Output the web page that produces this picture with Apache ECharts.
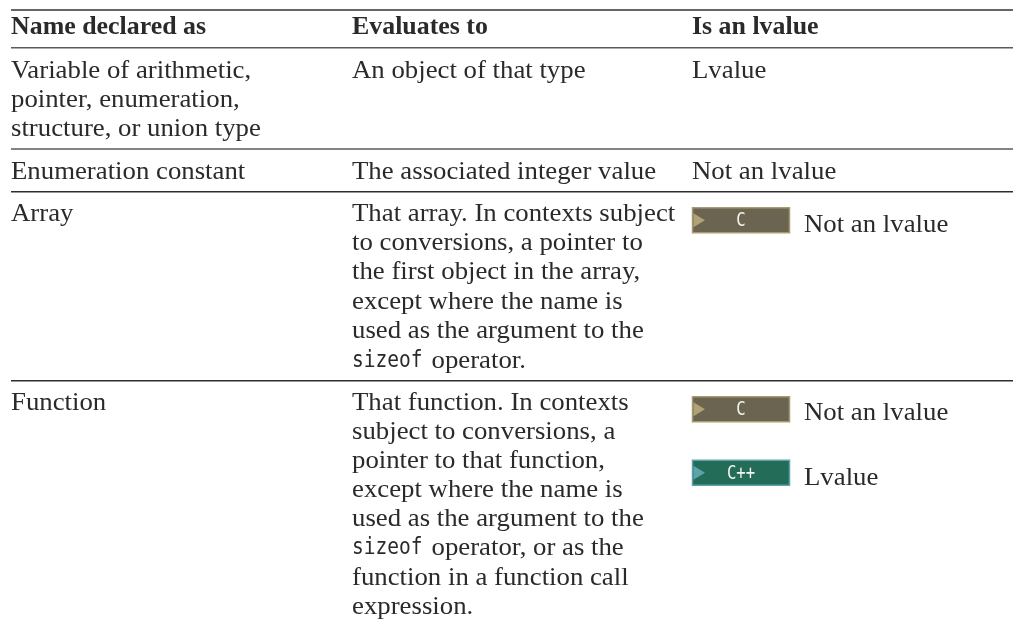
<!DOCTYPE html>
<html>
<head>
<meta charset="utf-8">
<style>
  html, body { margin: 0; padding: 0; background: #fff; }
  #main { width: 1013px; height: 623px; }
</style>
<script src="https://cdn.jsdelivr.net/npm/echarts@6/dist/echarts.min.js"></script>
</head>
<body>
<div id="main"></div>
<script>
// table text, one array per column, one entry per printed line
const headers = ['Name declared as', 'Evaluates to', 'Is an lvalue'];
const nameLines = [
  'Variable of arithmetic,', 'pointer, enumeration,', 'structure, or union type',
  'Enumeration constant', 'Array', 'Function'
];
const evalLines = [
  'An object of that type', 'The associated integer value',
  'That array. In contexts subject', 'to conversions, a pointer to', 'the first object in the array,',
  'except where the name is', 'used as the argument to the', '`sizeof` operator.',
  'That function. In contexts', 'subject to conversions, a', 'pointer to that function,',
  'except where the name is', 'used as the argument to the', '`sizeof` operator, or as the',
  'function in a function call', 'expression.'
];
const lvalueLines = ['Lvalue', 'Not an lvalue', 'Not an lvalue', 'Not an lvalue', 'Lvalue'];
const badgeLabels = ['C', 'C', 'C++'];

const chart = echarts.init(document.getElementById('main'));

const serif = '"Liberation Serif"';
const ink = '#2a2a2a';
const colX = [11, 352, 692];
const lvalueX = 804;

// y centre of each printed line
const nameY = [70.8, 99.8, 129.5, 171.8, 214.5, 402.8];
const evalY = [70.8, 171.8, 214.5, 243.5, 272.5, 301.8, 330.8, 360.8,
  402.8, 431.8, 460.8, 489.8, 518.8, 548.5, 577.8, 607.3];
const lvalueY = [71.1, 171.8, 225.1, 412.8, 477.8];
const badgeY = [220.3, 409.2, 472.7];
const ruleY = [[10, 2, '#666'], [47.7, 1.6, '#5a5a5a'], [149, 1.6, '#5a5a5a'], [191.7, 1.4, '#2e2e2e'], [380.7, 1.4, '#2e2e2e']];

function text(x, y, str, opts, sx) {
  return {
    type: 'text', x: x, y: y, scaleX: sx || 1.03,
    style: Object.assign({
      text: str, fill: ink, font: '26px ' + serif,
      textVerticalAlign: 'middle', verticalAlign: 'middle'
    }, opts || {})
  };
}

const elements = [];
ruleY.forEach(function (r) {
  elements.push({
    type: 'rect', shape: { x: 11, y: r[0] - r[1] / 2, width: 1002, height: r[1] },
    style: { fill: r[2] }
  });
});
headers.forEach(function (h, i) {
  elements.push(text(colX[i], 27.8, h, { font: 'bold 25.5px ' + serif }, 1.015));
});
nameLines.forEach(function (s, i) { elements.push(text(colX[0], nameY[i], s)); });
evalLines.forEach(function (s, i) {
  if (s.charAt(0) === '`') {
    // code font word followed by the rest of the line
    const parts = s.slice(1).split('` ');
    elements.push(text(colX[1], evalY[i], parts[0], { font: '23px "DejaVu Sans Mono"' }, 0.85));
    elements.push(text(colX[1] + 79.5, evalY[i], parts[1]));
  } else {
    elements.push(text(colX[1], evalY[i], s));
  }
});
lvalueLines.forEach(function (s, i) {
  const x = i < 2 ? colX[2] : lvalueX;
  elements.push(text(x, lvalueY[i], s));
});

// language badges in the third column
badgeLabels.forEach(function (label, i) {
  const isCpp = label === 'C++';
  const y = badgeY[i];
  elements.push({
    type: 'rect', shape: { x: 692.5, y: y - 12.5, width: 97, height: 25 },
    style: { fill: isCpp ? '#236d58' : '#6a6450', stroke: isCpp ? '#5da3ac' : '#a89b74', lineWidth: 1.5 }
  });
  elements.push({
    type: 'polygon', shape: { points: [[693.5, y - 7], [705, y], [693.5, y + 7]] },
    style: { fill: isCpp ? '#5da3ac' : '#b0a277' }
  });
  elements.push(text(741, y + 1, label, {
    font: '19px "DejaVu Sans Mono"', fill: '#f4f4f0', align: 'center', textAlign: 'center'
  }, 0.82));
});

chart.setOption({
  animation: false,
  backgroundColor: '#fff',
  graphic: { elements: elements }
});
</script>
</body>
</html>
